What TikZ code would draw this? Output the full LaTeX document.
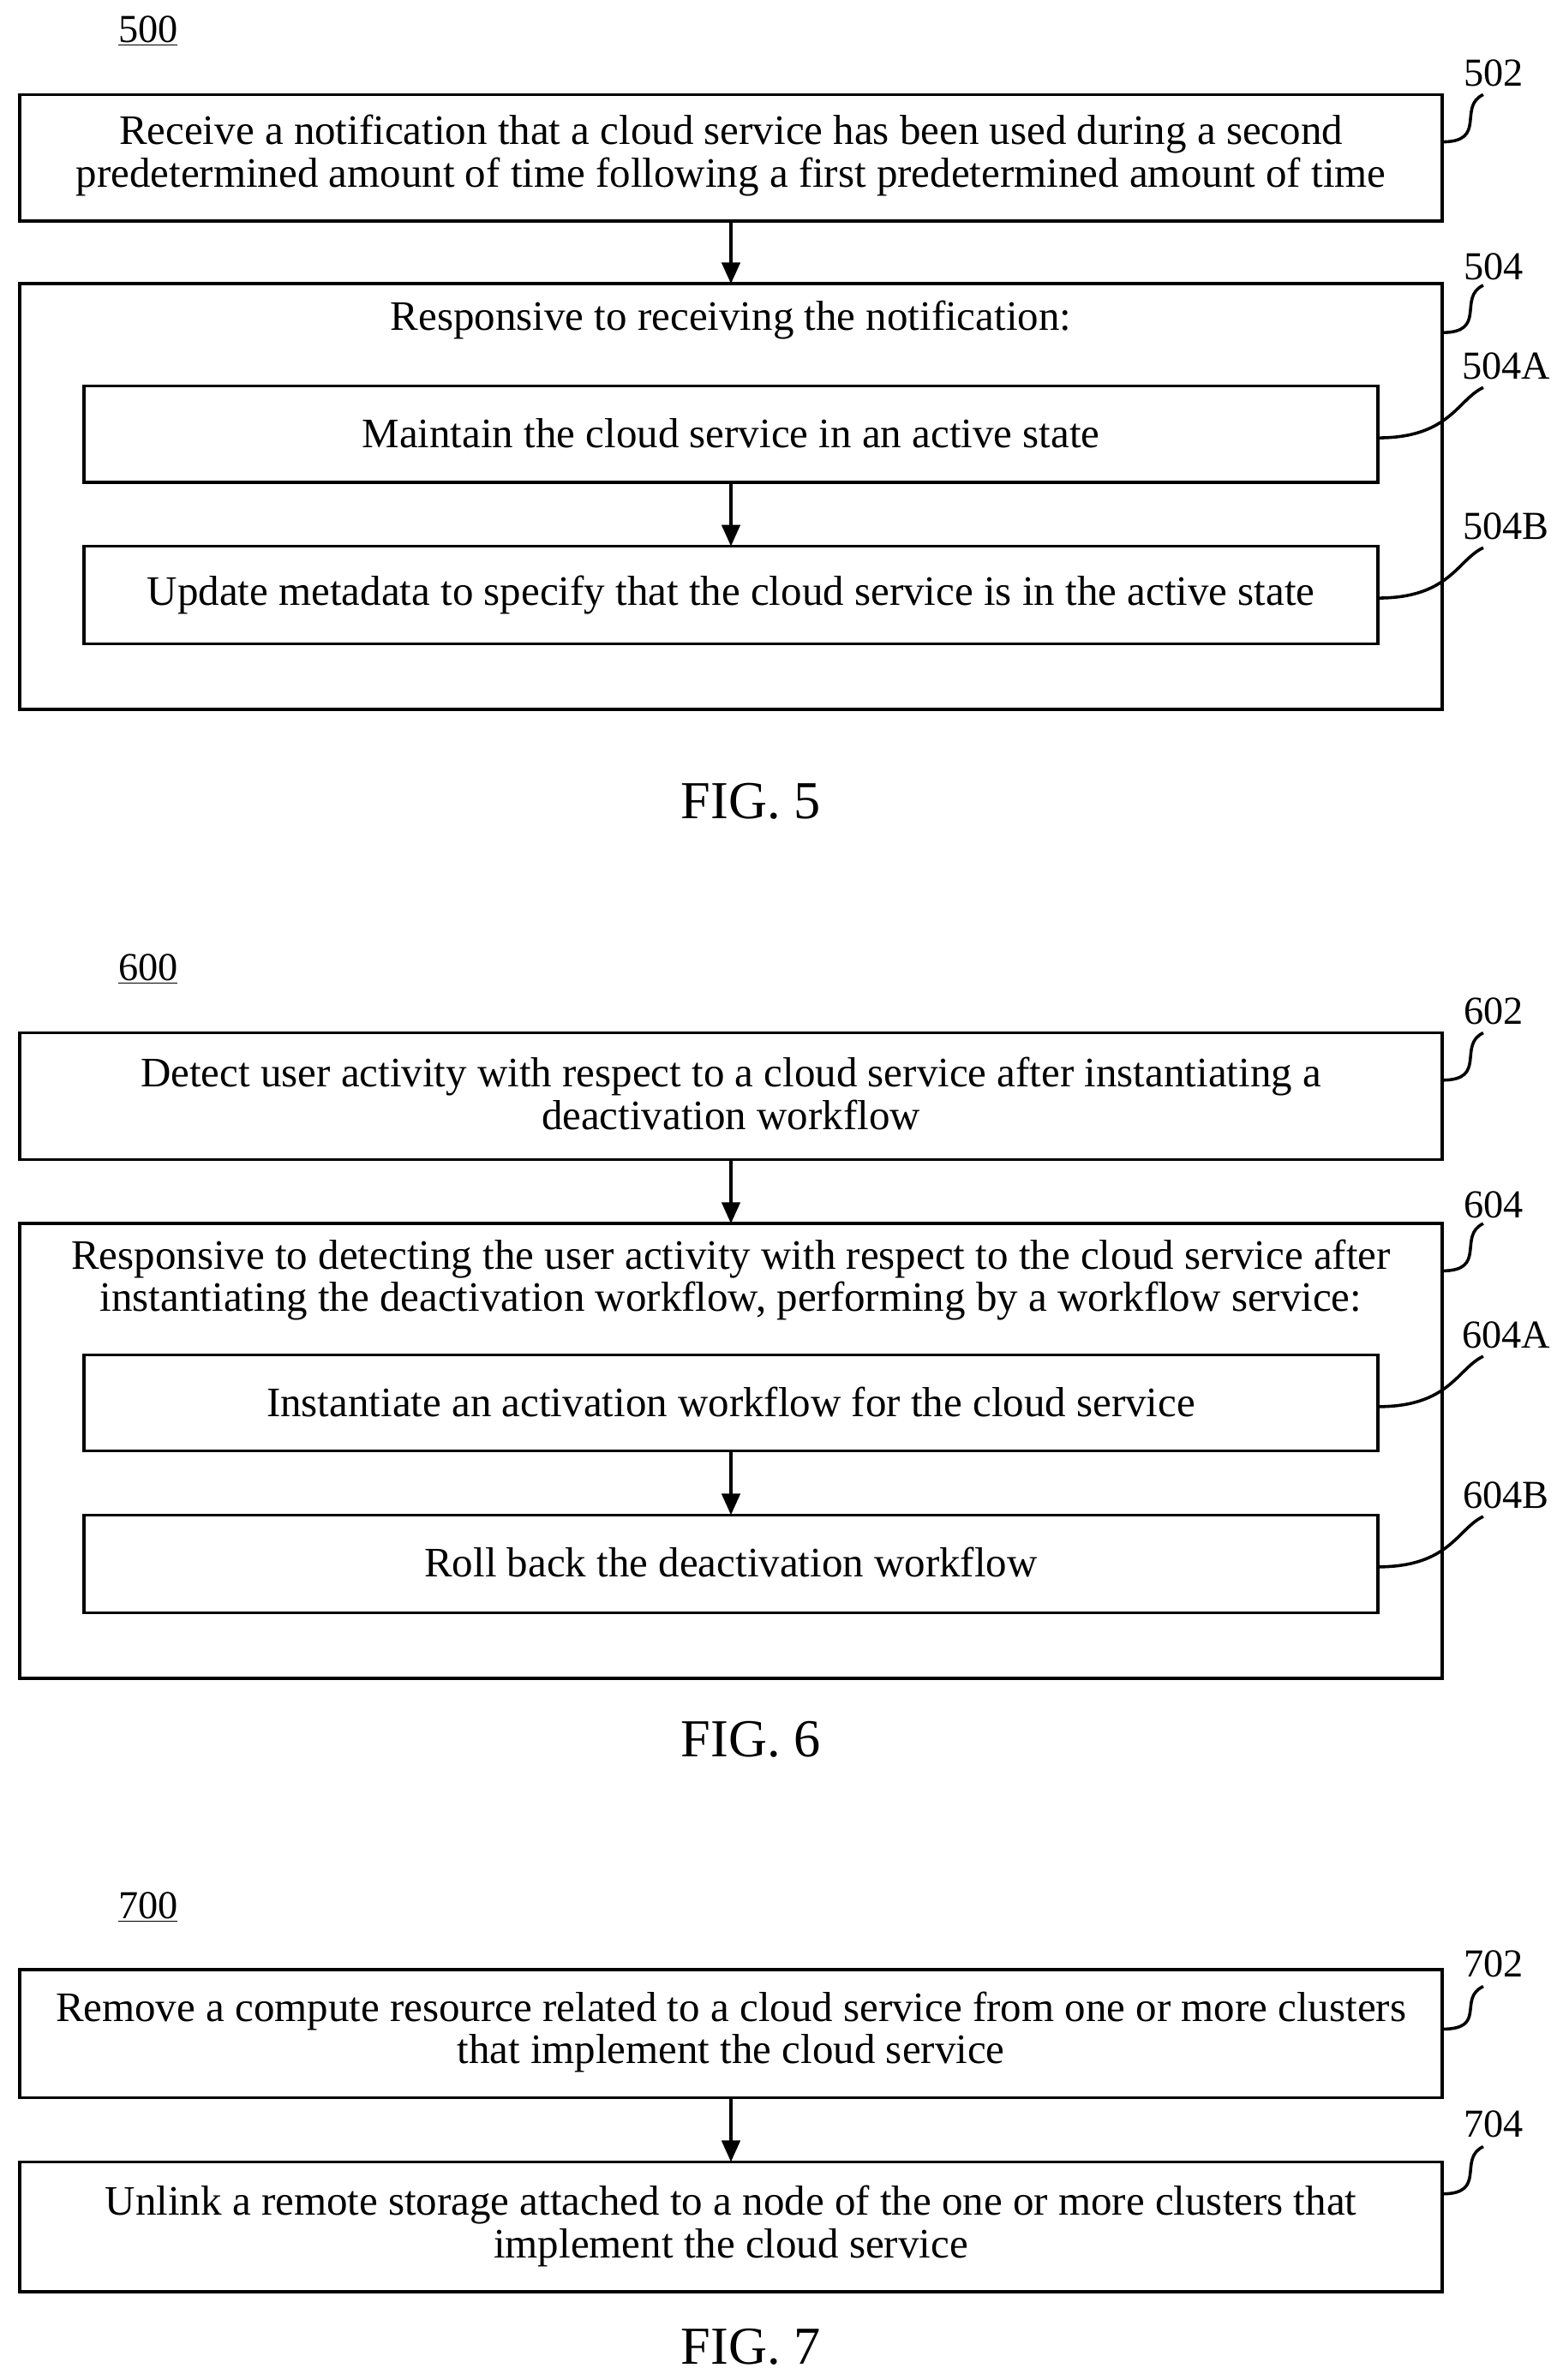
\documentclass[tikz,border=0pt]{standalone}
\usepackage{fontspec}
\setmainfont{Liberation Serif}
\usetikzlibrary{arrows.meta}
\begin{document}
\begin{tikzpicture}[x=1pt,y=-1pt,
  box/.style={draw,line width=2pt,inner sep=0pt},
  txt/.style={align=center,font=\fontsize{27.5}{28}\selectfont,inner sep=0pt},
  lab/.style={font=\fontsize{26}{28}\selectfont,inner sep=0pt,anchor=center},
  fig/.style={font=\fontsize{35}{38}\selectfont,inner sep=0pt},
  arr/.style={line width=2pt,-{Triangle[length=14pt,width=12pt]}},
  lead/.style={line width=2pt}]
\useasboundingbox (0,0) rectangle (1024,1560);
% ---------- FIG 5
\node[lab] (n500) at (97,20) {\underline{500}};
\draw[box] (13,62) rectangle (945,145);
\coordinate (b502t) at (479,62); \coordinate (b502b) at (479,145); \coordinate (b502r) at (945,93);
\node[txt] (t502) at (479,102) {Receive a notification that a cloud service has been used during a second\\predetermined amount of time following a first predetermined amount of time};
\node[lab] (l502) at (979,48) {502};
\draw[lead] (b502r) .. controls (975,93) and (955,70) .. (972,62);
\draw[box] (13,186) rectangle (945,465);
\coordinate (b504t) at (479,186); \coordinate (b504r) at (945,218);
\node[txt] (t504) at (479,210) {Responsive to receiving the notification:};
\node[lab] (l504) at (979,175) {504};
\draw[lead] (b504r) .. controls (975,218) and (955,195) .. (972,187);
\draw[arr] (b502b) -- (b504t);
\draw[box] (55,253) rectangle (903,316);
\node[txt] (t504a) at (479,284) {Maintain the cloud service in an active state};
\coordinate (a1b) at (479,316); \coordinate (a1r) at (903,287);
\node[lab] (l504a) at (987,240) {504A};
\draw[lead] (a1r) .. controls (950,287) and (955,262) .. (972,254);
\draw[box] (55,358) rectangle (903,422);
\node[txt] (t504b) at (479,390) {Update metadata to specify that the cloud service is in the active state};
\coordinate (a2t) at (479,358); \coordinate (a2r) at (903,392);
\node[lab] (l504b) at (987,345) {504B};
\draw[lead] (a2r) .. controls (950,392) and (955,367) .. (972,359);
\draw[arr] (a1b) -- (a2t);
\node[fig] (f5) at (492,525) {FIG. 5};
% ---------- FIG 6
\node[lab] (n600) at (97,635) {\underline{600}};
\draw[box] (13,677) rectangle (945,760);
\coordinate (b602b) at (479,760); \coordinate (b602r) at (945,708);
\node[txt] (t602) at (479,717) {Detect user activity with respect to a cloud service after instantiating a\\deactivation workflow};
\node[lab] (l602) at (979,663) {602};
\draw[lead] (b602r) .. controls (975,708) and (955,685) .. (972,677);
\draw[box] (13,802) rectangle (945,1100);
\coordinate (b604t) at (479,802); \coordinate (b604r) at (945,833);
\node[txt] (t604) at (479,839) {Responsive to detecting the user activity with respect to the cloud service after\\instantiating the deactivation workflow, performing by a workflow service:};
\node[lab] (l604) at (979,790) {604};
\draw[lead] (b604r) .. controls (975,833) and (955,810) .. (972,802);
\draw[arr] (b602b) -- (b604t);
\draw[box] (55,888) rectangle (903,951);
\node[txt] (t604a) at (479,919) {Instantiate an activation workflow for the cloud service};
\coordinate (c1b) at (479,951); \coordinate (c1r) at (903,922);
\node[lab] (l604a) at (987,875) {604A};
\draw[lead] (c1r) .. controls (950,922) and (955,897) .. (972,889);
\draw[box] (55,993) rectangle (903,1057);
\node[txt] (t604b) at (479,1024) {Roll back the deactivation workflow};
\coordinate (c2t) at (479,993); \coordinate (c2r) at (903,1027);
\node[lab] (l604b) at (987,980) {604B};
\draw[lead] (c2r) .. controls (950,1027) and (955,1002) .. (972,994);
\draw[arr] (c1b) -- (c2t);
\node[fig] (f6) at (492,1140) {FIG. 6};
% ---------- FIG 7
\node[lab] (n700) at (97,1250) {\underline{700}};
\draw[box] (13,1291) rectangle (945,1375);
\coordinate (b702b) at (479,1375); \coordinate (b702r) at (945,1330);
\node[txt] (t702) at (479,1332) {Remove a compute resource related to a cloud service from one or more clusters\\that implement the cloud service};
\node[lab] (l702) at (979,1287) {702};
\draw[lead] (b702r) .. controls (975,1330) and (955,1310) .. (972,1302);
\draw[box] (13,1417) rectangle (945,1502);
\coordinate (b704t) at (479,1417); \coordinate (b704r) at (945,1438);
\node[txt] (t704) at (479,1459) {Unlink a remote storage attached to a node of the one or more clusters that\\implement the cloud service};
\node[lab] (l704) at (979,1392) {704};
\draw[lead] (b704r) .. controls (975,1438) and (955,1415) .. (972,1407);
\draw[arr] (b702b) -- (b704t);
\node[fig] (f7) at (492,1538) {FIG. 7};
\end{tikzpicture}
\end{document}
